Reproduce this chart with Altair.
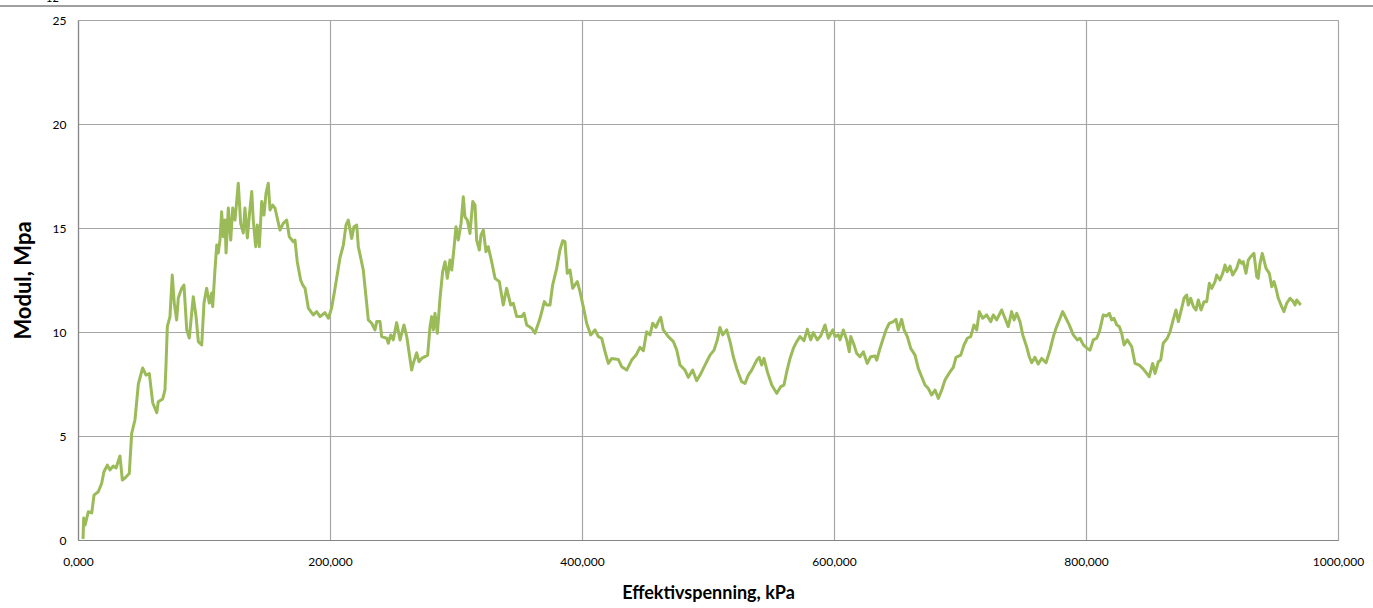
import altair as alt
import pandas as pd

# Effective stress (kPa) and oedometer modulus (MPa)
stress_kpa = [
    4.0, 4.5, 5.6, 8.2, 10.9, 12.7, 16.1, 18.8, 20.6, 23.3, 25.4, 28.0, 30.2, 33.3, 35.2, 37.3, 40.7,
    42.6, 45.2, 47.9, 51.3, 54.0, 56.6, 59.3, 62.5, 63.7, 67.2, 69.0, 69.8, 70.9, 73.0, 74.8, 76.4,
    78.3, 79.6, 82.3, 84.1, 86.3, 88.3, 91.5, 93.7, 95.5, 98.2, 100.0, 102.1, 104.2, 106.1, 106.9,
    108.7, 110.1, 111.3, 112.7, 114.0, 115.3, 116.7, 117.5, 119.3, 121.2, 122.8, 124.6, 127.2, 129.1,
    131.2, 132.5, 134.4, 136.0, 137.9, 139.1, 141.0, 142.3, 143.9, 145.8, 147.6, 149.2, 151.0, 152.4,
    154.5, 156.3, 160.3, 162.9, 165.6, 167.7, 170.9, 172.2, 174.0, 176.7, 178.3, 180.2, 182.8, 186.7,
    189.4, 192.1, 196.0, 198.7, 201.3, 204.0, 207.9, 210.6, 212.7, 214.5, 217.2, 219.0, 221.2, 222.5,
    226.4, 229.1, 230.4, 233.1, 235.7, 237.1, 239.7, 241.0, 245.0, 246.3, 248.2, 250.2, 252.9, 255.6,
    258.7, 260.9, 264.8, 266.1, 268.8, 270.6, 272.8, 277.5, 279.4, 280.7, 282.0, 283.3, 285.2, 287.3,
    289.4, 291.3, 293.1, 295.2, 296.6, 298.4, 300.0, 301.8, 304.0, 305.8, 307.1, 309.0, 311.1, 313.3,
    315.1, 316.4, 318.5, 319.8, 321.7, 323.8, 325.6, 328.3, 331.0, 334.4, 337.5, 340.2, 343.4, 345.5,
    348.2, 352.1, 354.0, 356.1, 360.1, 362.7, 366.7, 370.1, 372.0, 374.6, 376.7, 379.9, 382.5, 384.7,
    386.5, 388.3, 390.5, 392.6, 394.4, 396.3, 398.4, 401.0, 403.7, 406.9, 410.3, 413.0, 415.6, 418.3,
    420.9, 423.6, 428.8, 431.5, 435.5, 439.4, 442.9, 446.0, 448.7, 451.3, 454.0, 456.1, 458.7, 460.6,
    462.5, 464.5, 468.5, 472.5, 475.2, 477.8, 481.7, 484.4, 487.8, 491.0, 493.7, 497.6, 501.6, 504.8,
    507.4, 509.5, 511.7, 514.8, 517.5, 520.1, 522.8, 526.7, 529.4, 532.0, 534.7, 536.7, 538.7, 540.7,
    542.6, 544.4, 547.1, 550.6, 554.5, 557.7, 560.3, 562.5, 565.1, 567.7, 570.4, 573.0, 576.2, 578.8,
    581.5, 583.6, 586.7, 589.4, 592.9, 595.5, 599.0, 600.8, 603.4, 604.8, 607.4, 610.1, 612.1, 613.3,
    615.9, 618.0, 620.6, 623.3, 626.4, 629.1, 632.5, 633.9, 636.5, 639.1, 641.3, 643.9, 647.1, 649.2,
    651.0, 653.7, 655.6, 658.2, 660.9, 664.3, 666.9, 669.6, 672.2, 674.8, 677.5, 680.2, 682.8, 685.5,
    688.1, 692.1, 694.7, 696.8, 700.6, 703.2, 705.8, 708.5, 711.1, 713.3, 715.3, 718.0, 721.2, 724.4,
    726.4, 729.1, 733.1, 735.7, 738.3, 741.0, 742.9, 745.0, 747.6, 749.8, 752.9, 755.0, 756.9, 759.5,
    762.1, 764.8, 768.3, 771.4, 774.1, 776.7, 779.4, 781.5, 784.1, 786.7, 789.9, 793.1, 795.2, 797.9,
    801.0, 803.2, 805.8, 808.5, 810.6, 813.7, 816.4, 818.5, 820.4, 822.2, 824.4, 826.4, 828.3, 830.2,
    832.8, 836.3, 838.9, 842.3, 845.0, 848.2, 850.2, 852.9, 854.8, 857.4, 859.3, 861.3, 864.5, 866.7,
    868.8, 871.4, 873.3, 875.9, 877.8, 879.9, 881.2, 883.1, 885.2, 887.3, 889.1, 891.3, 893.7, 895.8,
    897.9, 899.8, 902.4, 903.7, 906.3, 908.5, 910.3, 912.1, 914.3, 916.4, 919.6, 921.7, 923.6, 924.8,
    927.0, 928.8, 930.7, 933.3, 935.5, 936.7, 938.1, 939.9, 942.9, 945.5, 947.4, 949.2, 950.8, 952.6,
    955.3, 957.1, 959.3, 961.9, 964.5, 965.9, 967.2, 970.4,
]

modulus_mpa = [
    0.05, 1.06, 0.72, 1.36, 1.30, 2.16, 2.32, 2.73, 3.28, 3.60, 3.37, 3.56, 3.46, 4.04, 2.88, 2.98, 3.20,
    5.13, 5.77, 7.50, 8.27, 7.93, 8.00, 6.60, 6.12, 6.65, 6.78, 7.20, 8.33, 10.26, 10.74, 12.74, 11.39,
    10.58, 11.63, 12.10, 12.26, 10.10, 9.71, 11.70, 10.74, 9.54, 9.38, 11.39, 12.10, 11.39, 11.87, 11.22,
    12.98, 14.18, 13.80, 14.42, 15.78, 14.58, 15.38, 13.80, 15.96, 14.42, 15.96, 15.38, 17.15, 15.22,
    14.76, 15.96, 14.52, 15.62, 16.75, 15.38, 14.10, 15.14, 14.10, 16.27, 15.62, 16.67, 17.15, 15.87,
    16.10, 15.96, 14.90, 15.22, 15.38, 14.58, 14.34, 14.42, 13.38, 12.50, 12.26, 12.10, 11.15, 10.82,
    10.98, 10.74, 10.93, 10.66, 11.15, 12.10, 13.56, 14.18, 15.14, 15.38, 14.50, 15.06, 15.14, 14.10,
    12.98, 11.38, 10.58, 10.42, 10.10, 10.50, 10.50, 9.78, 9.70, 9.46, 9.86, 9.62, 10.45, 9.62,
    10.34, 9.78, 8.17, 8.49, 9.00, 8.57, 8.73, 8.89, 10.26, 10.74, 10.10, 10.90, 9.94, 11.62,
    12.90, 13.38, 12.58, 13.46, 12.98, 14.02, 15.06, 14.42, 15.22, 16.50, 15.54, 15.38, 14.74, 16.27,
    16.10, 14.42, 13.94, 14.66, 14.90, 13.86, 14.10, 13.38, 12.58, 12.42, 11.30, 12.10, 11.30, 11.38,
    10.74, 10.74, 10.90, 10.34, 10.18, 9.94, 10.66, 11.46, 11.30, 11.30, 12.26, 13.06, 13.94, 14.39,
    14.34, 12.82, 12.98, 12.10, 12.26, 12.42, 11.94, 11.22, 10.42, 9.86, 10.10, 9.78, 9.70, 9.05,
    8.49, 8.73, 8.68, 8.33, 8.17, 8.65, 8.89, 9.26, 9.10, 10.01, 9.86, 10.42, 10.22, 10.50,
    10.71, 10.10, 9.78, 9.54, 9.13, 8.41, 8.17, 7.82, 8.17, 7.66, 7.93, 8.41, 8.89, 9.13,
    9.62, 10.22, 9.86, 10.10, 9.54, 8.81, 8.25, 7.61, 7.53, 7.93, 8.17, 8.41, 8.65, 8.78,
    8.41, 8.73, 8.09, 7.45, 7.05, 7.37, 7.45, 8.09, 8.73, 9.21, 9.54, 9.78, 9.58, 10.13,
    9.62, 9.97, 9.62, 9.81, 10.34, 9.70, 10.10, 9.78, 9.86, 9.62, 10.10, 9.62, 9.05, 9.78,
    9.38, 8.97, 8.81, 9.05, 8.49, 8.81, 8.85, 8.65, 9.21, 9.70, 10.10, 10.42, 10.50, 10.61,
    10.10, 10.61, 10.10, 9.78, 9.21, 8.89, 8.25, 7.85, 7.45, 7.29, 6.97, 7.21, 6.81, 7.21,
    7.69, 8.09, 8.30, 8.78, 8.89, 9.38, 9.70, 9.78, 10.34, 10.10, 10.98, 10.66, 10.82, 10.50,
    10.82, 10.58, 11.06, 10.66, 10.26, 10.98, 10.58, 10.90, 10.50, 9.86, 9.29, 8.81, 8.52, 8.78,
    8.46, 8.73, 8.52, 9.13, 9.78, 10.26, 10.66, 10.98, 10.66, 10.34, 9.86, 9.62, 9.70, 9.38,
    9.21, 9.13, 9.62, 9.70, 10.01, 10.82, 10.77, 10.90, 10.58, 10.66, 10.34, 10.26, 9.94, 9.38,
    9.62, 9.29, 8.49, 8.41, 8.25, 8.01, 7.85, 8.49, 8.01, 8.57, 8.65, 9.46, 9.70, 10.01,
    10.50, 11.06, 10.50, 11.14, 11.62, 11.78, 11.30, 11.62, 11.22, 11.06, 11.54, 11.06, 11.46, 11.46,
    12.34, 12.10, 12.42, 12.74, 12.50, 12.82, 13.22, 12.90, 13.17, 12.74, 13.06, 13.46, 13.30, 13.38,
    12.82, 13.46, 13.62, 13.78, 12.66, 12.58, 13.30, 13.78, 13.06, 12.82, 12.18, 12.42, 12.10, 11.62,
    11.22, 10.98, 11.38, 11.62, 11.46, 11.30, 11.54, 11.30,
]

x_ticks = [0, 200, 400, 600, 800, 1000]
y_ticks = [0, 5, 10, 15, 20, 25]

df = pd.DataFrame({"stress": stress_kpa, "modulus": modulus_mpa, "order": range(len(stress_kpa))})

FONT = "Lato"
GRID = "#a6a6a6"
AXIS = "#868686"

line = alt.Chart(df).mark_line(color="#9BBB59", strokeWidth=3, strokeJoin="round").encode(
    x=alt.X(
        "stress:Q",
        scale=alt.Scale(domain=[0, 1000], nice=False, zero=True),
        axis=alt.Axis(
            values=x_ticks,
            title="Effektivspenning, kPa",
            labelExpr="replace(format(datum.value, '.3f'), '.', ',')",
            labelFont=FONT, labelFontSize=12, labelColor="#000000", labelPadding=16,
            labelFlush=False, labelOverlap=False,
            titleFont=FONT, titleFontSize=18, titleFontWeight="bold", titleColor="#000000",
            titlePadding=17,
            ticks=False, domainColor=AXIS, domainWidth=1.2,
            grid=True, gridColor=GRID, gridWidth=1.2,
        ),
    ),
    y=alt.Y(
        "modulus:Q",
        scale=alt.Scale(domain=[0, 25], nice=False),
        axis=alt.Axis(
            values=y_ticks,
            title="Modul, Mpa",
            labelFont=FONT, labelFontSize=12, labelColor="#000000", labelPadding=12,
            labelFlush=False,
            titleFont=FONT, titleFontSize=22, titleFontWeight="bold", titleColor="#000000",
            titlePadding=17,
            ticks=False, domainColor=AXIS, domainWidth=1.2,
            grid=True, gridColor=GRID, gridWidth=1.2,
        ),
    ),
    order="order:Q",
)

# Page header rule and page number above the plot
header_rule = alt.Chart(pd.DataFrame({"k": [0]})).mark_rule(color="#a0a0a0", strokeWidth=2).encode(
    x=alt.value(-80), x2=alt.value(1300), y=alt.value(-14)
)
page_no = alt.Chart(pd.DataFrame({"t": ["12"]})).mark_text(
    font=FONT, fontSize=11, color="#000000", align="left", baseline="alphabetic"
).encode(text="t:N", x=alt.value(-32), y=alt.value(-18))

chart = (
    alt.layer(line, header_rule, page_no)
    .properties(
        width=1260,
        height=520,
        padding={"left": 78, "top": 20, "right": 35, "bottom": 68},
        autosize=alt.AutoSizeParams(type="none"),
    )
    .configure_view(stroke="#a6a6a6", strokeWidth=1.5)
    .configure(background="#ffffff")
)

chart.save("out.html", embed_options={"renderer": "svg", "actions": False})
